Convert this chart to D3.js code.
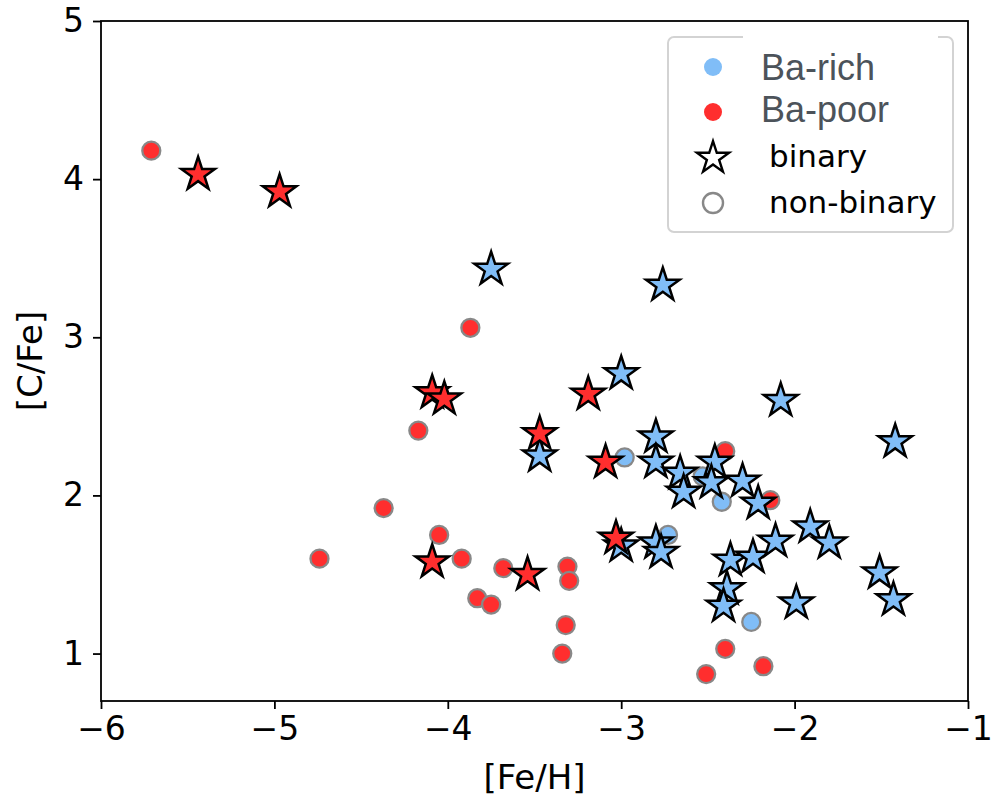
<!DOCTYPE html>
<html><head><meta charset="utf-8">
<script src="https://cdn.jsdelivr.net/npm/d3@7"></script>
<style>body{margin:0;background:#fff}svg{display:block}</style>
</head><body>
<svg id="c" width="992" height="799"></svg>
<script>
// ---- data ----
const xTicks = [-6, -5, -4, -3, -2, -1];
const yTicks = [1, 2, 3, 4, 5];
const xDomain = [-6, -1];
const yDomain = [0.7, 5];

// Ba-poor, non-binary (red circles)
const poorSingleFe = [-5.71,-4.74,-4.37,-4.17,-4.05,-3.87,-3.92,-3.83,-3.75,-3.68,-3.31,-3.30,-3.32,-3.34,-2.40,-2.14,-2.40,-2.51,-2.18];
const poorSingleC  = [ 4.18, 1.60, 1.92, 2.41, 1.75, 3.06, 1.60, 1.35, 1.31, 1.54, 1.55, 1.46, 1.18, 1.00, 2.28, 1.97, 1.03, 0.87, 0.92];
// Ba-rich, non-binary (blue circles)
const richSingleFe = [-2.98,-2.53,-2.42,-2.73,-2.25];
const richSingleC  = [ 2.24, 2.12, 1.96, 1.75, 1.20];
// Ba-rich, binary (blue stars)
const richBinFe = [-3.75,-2.76,-3.00,-2.08,-1.42,-3.47,-2.80,-2.80,-2.66,-2.64,-2.46,-2.48,-2.30,-2.21,-3.00,-2.80,-2.77,-2.37,-2.24,-2.11,-1.91,-1.80,-2.39,-2.41,-1.99,-1.51,-1.43];
const richBinC  = [ 3.43, 3.33, 2.77, 2.60, 2.34, 2.25, 2.37, 2.21, 2.14, 2.02, 2.21, 2.08, 2.09, 1.95, 1.68, 1.70, 1.64, 1.59, 1.61, 1.71, 1.80, 1.70, 1.41, 1.30, 1.32, 1.51, 1.34];
// Ba-poor, binary (red stars)
const poorBinFe = [-5.44,-4.97,-4.09,-4.02,-3.47,-3.19,-3.09,-3.03,-4.09,-3.54];
const poorBinC  = [ 4.03, 3.92, 2.65, 2.61, 2.39, 2.64, 2.21, 1.73, 1.58, 1.50];

const legendLabels = ["Ba-rich", "Ba-poor", "binary", "non-binary"];
const xLabel = "[Fe/H]", yLabel = "[C/Fe]";

// ---- styles ----
const BLUE = "#80bdf7", RED = "#ff2e2e";
const M = {left: 101, right: 968, top: 21, bottom: 701};

const svg = d3.select("#c");
const x = d3.scaleLinear().domain(xDomain).range([M.left, M.right]);
const y = d3.scaleLinear().domain(yDomain).range([M.bottom, M.top]);

const zip = (a, b) => a.map((v, i) => [v, b[i]]);
const star = d3.symbol().type(d3.symbolStar).size(350);

function circles(fe, c, fill) {
  svg.append("g").selectAll("circle").data(zip(fe, c)).join("circle")
    .attr("cx", d => x(d[0])).attr("cy", d => y(d[1])).attr("r", 9)
    .attr("fill", fill).attr("stroke", "#888").attr("stroke-width", 2.3);
}
function stars(fe, c, fill) {
  svg.append("g").selectAll("path").data(zip(fe, c)).join("path")
    .attr("d", star).attr("transform", d => `translate(${x(d[0])},${y(d[1])})`)
    .attr("fill", fill).attr("stroke", "#000").attr("stroke-width", 2.5)
    .attr("stroke-linejoin", "miter");
}
circles(poorSingleFe, poorSingleC, RED);
circles(richSingleFe, richSingleC, BLUE);
stars(richBinFe, richBinC, BLUE);
stars(poorBinFe, poorBinC, RED);

// frame
svg.append("rect").attr("x", M.left).attr("y", M.top)
  .attr("width", M.right - M.left).attr("height", M.bottom - M.top)
  .attr("fill", "none").attr("stroke", "#000").attr("stroke-width", 1.8);

// axes
const fontTick = "'DejaVu Sans', sans-serif";
const xAxis = svg.append("g").attr("transform", `translate(0,${M.bottom})`)
  .call(d3.axisBottom(x).tickValues(xTicks).tickSize(8).tickPadding(8)
    .tickFormat(d => d < 0 ? "\u2212" + Math.abs(d) : d));
const yAxis = svg.append("g").attr("transform", `translate(${M.left},0)`)
  .call(d3.axisLeft(y).tickValues(yTicks).tickSize(8).tickPadding(9).tickFormat(d3.format("d")));
[xAxis, yAxis].forEach(a => {
  a.select(".domain").remove();
  a.selectAll(".tick line").attr("stroke", "#000").attr("stroke-width", 1.8);
  a.selectAll(".tick text").attr("fill", "#000").style("font-family", fontTick).style("font-size", "33px");
});

svg.append("text").attr("x", (M.left + M.right) / 2).attr("y", 789)
  .attr("text-anchor", "middle").style("font-family", fontTick).style("font-size", "34px").text(xLabel);
svg.append("text").attr("transform", `translate(42,${(M.top + M.bottom) / 2}) rotate(-90)`)
  .attr("text-anchor", "middle").style("font-family", fontTick).style("font-size", "34px").text(yLabel);

// legend
const lg = svg.append("g");
lg.append("rect").attr("x", 668).attr("y", 37).attr("width", 285).attr("height", 195)
  .attr("rx", 6).attr("fill", "#fff").attr("stroke", "#d3d3d3").attr("stroke-width", 2);
lg.append("line").attr("x1", 743).attr("x2", 938).attr("y1", 37).attr("y2", 37)
  .attr("stroke", "#fff").attr("stroke-width", 4);
const mx = 713;
lg.append("circle").attr("cx", mx).attr("cy", 67).attr("r", 9).attr("fill", BLUE);
lg.append("circle").attr("cx", mx).attr("cy", 112).attr("r", 9).attr("fill", RED);
lg.append("path").attr("d", d3.symbol().type(d3.symbolStar).size(320)())
  .attr("transform", `translate(${mx},158)`).attr("fill", "none").attr("stroke", "#000").attr("stroke-width", 2.4);
lg.append("circle").attr("cx", mx).attr("cy", 203).attr("r", 10).attr("fill", "none")
  .attr("stroke", "#888").attr("stroke-width", 2.4);
const lf = "'Liberation Sans', Arial, sans-serif";
lg.append("text").attr("x", 761).attr("y", 80).style("font-family", lf).style("font-size", "36px")
  .attr("fill", "#4c535a").text(legendLabels[0]);
lg.append("text").attr("x", 761).attr("y", 122).style("font-family", lf).style("font-size", "36px")
  .attr("fill", "#4c535a").text(legendLabels[1]);
lg.append("text").attr("x", 769).attr("y", 167).style("font-family", fontTick).style("font-size", "31px")
  .attr("fill", "#000").text(legendLabels[2]);
lg.append("text").attr("x", 769).attr("y", 213).style("font-family", fontTick).style("font-size", "31px")
  .attr("fill", "#000").text(legendLabels[3]);
</script>
</body></html>
